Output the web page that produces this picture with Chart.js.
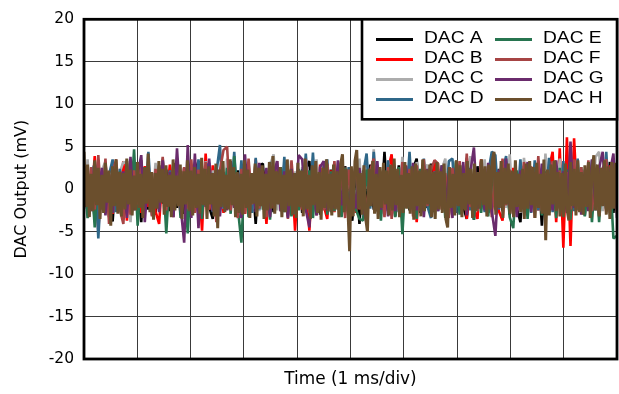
<!DOCTYPE html>
<html><head><meta charset="utf-8">
<script src="https://cdn.jsdelivr.net/npm/chart.js@4.4.1/dist/chart.umd.min.js"></script>
<style>html,body{margin:0;padding:0;background:#fff;}#wrap{width:619px;height:394px;}</style>
</head><body><div id="wrap"><canvas id="c" width="619" height="394"></canvas></div>
<script>
// ---- data (mV), samples evenly spread over 10 divisions of 1 ms ----
const seriesNames = ['DAC A','DAC B','DAC C','DAC D','DAC E','DAC F','DAC G','DAC H'];
const yTicks = [-20,-15,-10,-5,0,5,10,15,20];
const xDivisions = 10;

const dacA = [2.1,-2.6,1.7,-3.7,2.4,-1.9,3.0,-2.3,-3.8,2.2, -1.6,2.7,-2.8,3.5,-2.0,1.8,-3.9,2.5,-2.4,1.9, -3.0,2.8,-1.7,2.3,-2.6,3.1,-2.2,1.6,-2.9,2.6, -1.8,2.0,3.3,-2.7,2.4,-2.1,-3.5,2.9,-2.5,1.7, -2.3,3.0,-1.9,2.2,-3.1,2.6,-2.0,1.5,-4.1,2.8, 3.0,-2.4,1.8,-2.7,2.5,-1.6,2.9,-3.2,2.1,-2.2, 1.7,-2.8,2.4,3.3,-2.5,2.0,-3.0,2.6,-1.9,2.3, -2.6,1.8,-3.1,2.7,-2.1,-3.7,2.5,-4.1,2.2,-1.8, 2.9,-2.4,1.6,-2.9,4.4,-2.6,2.1,-3.2,2.8,-2.0, 1.9,-2.5,2.4,3.6,-2.8,1.7,-2.2,3.0,-2.7,2.3, -1.9,2.6,-3.0,1.8,-2.4,2.9,-2.1,-3.5,2.0,-3.6, 2.7,-2.3,1.9,-2.8,3.1,-1.7,2.4,-2.6,2.2,-3.0, 1.6,-2.2,-3.9,2.8,-2.5,2.0,-1.8,2.6,-4.3,2.3, -2.7,1.9,-2.1,3.0,-2.9,2.4,-1.6,2.7,-2.4,1.8, -3.1,2.5,-2.0,2.9,-2.6,1.7,-2.3,3.2,-2.8,2.1];
const dacB = [-2.0,2.4,-1.7,3.9,-4.9,2.1,-2.5,1.8,-2.9,2.6, -1.9,3.3,-3.7,2.2,-2.4,1.6,-2.8,2.7,-2.1,1.9, -2.6,-4.1,2.3,-1.8,2.9,-2.3,1.7,-3.0,2.5,-2.2, 2.0,-2.7,1.6,-4.9,4.2,-2.4,2.8,-1.9,2.2,-2.8, 1.8,-2.3,2.6,-2.0,1.7,-2.9,2.4,-2.5,3.5,-1.8, 2.1,-4.1,2.7,-2.2,1.9,-2.6,2.3,-1.7,2.8,-4.9, 2.0,-2.4,1.6,-4.9,2.6,-2.1,2.9,-1.9,-3.5,2.2, -2.7,1.8,-2.3,2.5,-2.0,1.7,-2.8,2.4,-2.5,2.0, -1.8,2.7,-2.6,1.9,-2.2,2.3,4.1,-2.9,1.6,-2.4, 2.8,-2.1,2.2,-3.9,1.8,-2.6,2.5,-1.9,3.4,-2.3, 2.0,-2.8,1.7,-2.2,2.6,-2.0,2.3,-3.5,1.9,-2.4, -3.5,3.5,-2.1,2.4,-1.8,2.7,-2.6,-3.7,2.1,-1.9, 2.5,-2.7,1.8,-2.3,2.9,-2.0,1.6,-2.5,2.2,-2.9, 2.4,4.4,-3.9,4.8,-6.9,6.1,-6.7,6.0,-2.5,2.3, -2.2,1.9,-2.6,2.5,-1.8,2.1,-2.7,2.8,-2.0,2.4];
const dacC = [-2.1,3.5,-2.5,1.8,-2.8,2.2,3.3,-2.4,1.7,-2.6, 2.0,3.2,3.0,-3.9,2.3,-1.9,3.4,-2.9,1.6,-2.2, 3.1,-1.7,2.1,-2.6,1.9,-2.4,3.7,-2.0,1.5,-2.8, 2.4,-2.2,1.8,-2.5,3.3,-1.8,2.2,-2.7,1.7,-2.3, 3.6,-2.1,1.9,-2.9,2.3,-1.6,3.2,-2.4,2.0,-2.6, 1.8,-2.2,2.8,4.1,-2.5,1.7,-2.0,3.4,-2.8,2.1, -1.9,2.6,-2.3,1.6,-2.7,3.5,-2.0,2.9,-2.4,1.8, -2.6,3.3,-1.7,2.5,-2.8,2.0,-2.2,3.6,-2.5,2.7, -2.1,4.7,-2.6,1.8,-2.3,3.4,-1.9,2.1,-2.7,3.8, -2.0,1.7,-2.4,3.2,-2.2,2.0,2.9,-2.6,1.9,-2.1, 2.3,3.6,-2.5,1.6,3.4,-2.8,2.2,-1.9,3.9,-2.3, 1.8,-2.7,3.5,-2.0,2.1,-2.5,1.7,3.2,-2.2,4.1, -2.4,1.9,-2.8,3.7,-1.7,2.6,-2.1,3.3,-2.6,4.2, -2.3,1.8,-2.0,3.6,-2.7,2.2,-1.9,3.4,-2.4,1.6, -2.2,2.9,-2.5,3.8,4.4,-2.6,1.8,-2.3,3.5,-2.0];
const dacD = [2.2,-2.5,1.8,3.0,-5.8,2.1,-2.2,1.7,3.5,-2.7, 2.4,-1.9,3.4,-2.4,1.6,-2.8,3.1,-2.0,4.4,-2.6, 1.9,-2.3,3.6,-1.8,2.2,-2.9,3.3,-2.4,2.5,-2.1, 2.0,-2.6,3.5,-2.2,2.4,3.1,-2.7,1.9,5.2,-2.3, 2.1,-1.8,4.4,-2.5,3.4,-2.0,1.7,-2.8,3.7,-2.4, 1.9,-2.2,3.2,-1.7,2.5,-2.6,3.8,-2.3,1.8,-2.9, 2.4,-2.1,4.2,-2.0,4.3,-2.5,1.6,-2.2,3.5,-2.7, 1.9,-2.4,3.3,-1.9,2.6,-2.8,3.6,-2.0,1.7,4.2, -2.3,4.4,-2.6,2.0,-1.8,3.4,-2.4,1.9,-2.7,3.1, -2.1,4.4,-2.5,1.8,-2.2,3.6,-2.0,-3.4,2.1,-2.6, 1.7,-2.3,3.3,3.6,-2.8,2.0,-1.9,3.7,-2.5,1.8, -2.2,3.2,-2.7,1.9,4.4,4.0,-2.4,2.2,3.9,-2.6, 1.8,-2.1,3.5,-2.3,2.0,-2.8,3.4,-2.5,2.4,-2.0, 3.7,-2.7,1.9,-2.3,3.3,-1.8,2.8,-2.6,3.6,-2.4, 1.6,-2.2,3.4,-2.5,2.0,-1.9,4.4,-2.8,3.2,-2.1];
const dacE = [2.0,-3.4,1.8,-4.5,2.3,-2.0,1.7,-3.3,2.4,-1.9, 2.1,-3.6,1.6,-2.2,4.7,-4.3,2.5,-1.8,2.2,-3.1, 1.9,-2.3,2.6,-5.2,2.0,-1.7,2.4,-3.4,1.8,-5.2, 2.3,-2.1,1.7,-3.5,2.7,-2.0,1.9,-3.2,2.2,-1.8, 2.5,-2.9,3.9,-2.2,-6.3,2.1,-3.3,1.6,-2.0,2.8, -2.4,1.8,-3.6,2.3,-1.7,2.6,-2.7,2.0,-3.2,1.9, -2.5,2.4,-1.8,2.2,-3.4,1.7,-2.3,2.7,-3.0,2.1, -2.6,1.9,-3.3,2.5,-1.9,2.0,-2.4,-3.5,-3.7,2.3, -2.0,1.8,2.4,-3.7,2.2,-2.5,1.6,-3.3,2.6,-5.3, 2.0,-2.3,1.9,-3.5,2.4,-1.8,2.2,-3.1,1.7,-2.0, 2.8,-3.4,2.1,-2.6,3.3,-3.0,1.9,-2.3,2.5,-3.6, 2.0,-2.8,1.6,-3.2,2.6,-2.4,2.3,-1.7,1.9,-3.3, -4.6,2.2,-2.0,2.7,-3.5,1.8,-2.6,2.4,-3.1,2.1, -2.8,1.7,-3.4,2.5,-2.0,2.3,-3.6,1.9,-2.4,2.6, -3.2,1.8,-3.9,2.2,-3.9,2.0,-2.6,2.4,-5.8,-5.5];
const dacF = [2.3,-1.9,2.6,-2.4,4.0,-2.1,3.6,-4.1,2.0,3.5, -2.3,-4.1,3.3,-3.0,2.2,-1.8,3.4,-2.6,1.7,-3.2, 2.4,-1.9,3.8,-2.5,1.8,-3.3,3.1,-2.0,2.6,-2.3, 3.5,-2.8,2.3,-1.7,3.2,-2.4,1.9,-3.9,2.2,4.6, 5.0,-2.5,1.8,-3.4,2.4,-2.9,3.6,-1.8,2.6,-2.3, 1.7,-3.3,2.2,-2.0,3.3,-2.4,1.9,-3.5,3.4,-1.8, 2.1,-2.3,3.5,-2.8,2.4,-3.1,2.0,-2.5,3.0,-1.9, 3.3,-2.2,1.8,-3.4,2.3,-2.0,3.6,-2.4,1.7,-2.9, 2.2,3.6,-2.3,1.9,-3.3,2.6,-3.5,2.0,-2.5,3.2, -2.2,2.4,-3.2,2.8,-2.6,3.5,-2.0,2.3,3.4,3.0, -2.4,1.9,-3.4,2.5,-1.8,3.3,-2.3,4.2,-2.1,1.7, -2.6,3.4,-2.0,2.0,-3.3,1.8,-2.2,3.6,-1.9,2.3, -3.1,1.7,-2.4,3.2,-2.0,2.7,-3.4,3.9,-2.6,1.9, -2.1,3.3,-1.8,2.2,-3.2,2.0,-2.4,3.5,-2.3,2.6, -2.0,3.4,-2.6,1.9,-3.0,2.4,3.5,-2.5,2.0,-2.1];
const dacG = [-2.3,1.9,-2.6,3.2,-1.8,2.5,-3.1,1.7,-2.8,2.4, -2.0,2.1,-3.4,3.8,-2.5,1.8,4.0,-3.9,2.3,-2.2, 1.6,-2.7,3.4,-1.9,2.0,-3.3,4.8,-2.0,-6.3,5.2, -3.4,4.2,-4.6,2.5,-2.1,3.6,-2.6,2.3,-3.2,2.0, -2.5,3.3,-2.2,1.9,-3.4,4.1,-2.0,1.6,-2.7,3.1, -1.9,2.5,-3.3,1.8,3.3,-2.6,2.1,-3.4,2.4,-2.2, 4.0,3.5,-2.4,-4.5,1.9,-3.1,2.6,3.3,-2.5,1.8, -2.2,3.4,-1.9,2.1,-3.5,1.7,-2.3,2.5,-2.0,-4.0, 2.2,-1.8,3.3,-2.4,1.9,-3.2,2.3,-2.6,1.6,-2.2, 2.7,-2.0,3.1,-2.5,1.8,-3.3,2.4,-1.9,2.0,-2.6, 2.8,-2.2,1.7,-3.4,2.5,-2.0,3.2,-3.1,2.0,4.9, -2.3,1.8,-2.5,3.1,-2.6,-5.5,2.3,-2.0,3.6,-2.2, 1.9,-3.3,2.2,-1.8,3.2,-2.7,2.0,-2.1,3.0,-2.3, 1.7,-2.5,3.4,-2.0,2.1,-2.8,5.6,-2.2,1.9,-3.0, 2.3,-2.6,3.5,-2.1,2.5,4.4,-2.3,2.0,4.2,-3.4];
const dacH = [4.4,-2.1,2.9,-3.3,1.8,-2.6,3.4,-1.9,2.5,-3.5, 1.7,-2.8,3.1,-1.6,2.2,-4.3,2.7,-2.0,3.5,-2.9, 2.0,-3.2,1.9,-2.4,3.6,-1.8,2.3,-3.1,1.6,-2.5, 3.2,-2.2,1.8,-3.4,2.6,-1.7,4.2,-2.7,2.0,-3.6, 1.9,-2.3,3.3,-1.6,2.4,-3.0,2.8,-2.1,1.7,-3.3, 3.5,-2.5,1.6,-2.0,2.9,-3.5,2.1,-1.8,3.4,-2.6, 2.2,-3.1,2.6,-2.2,1.8,-2.9,3.7,-1.9,2.4,-3.5, 2.7,-1.8,1.9,-3.2,3.0,-4.6,2.3,-2.1,3.3,-2.7, 1.7,-2.4,3.5,-1.9,2.6,-3.3,2.0,-2.8,1.8,-3.0, 3.4,-2.2,2.3,-3.4,1.9,-1.7,3.0,-3.2,2.5,-2.0, 2.8,-3.5,1.8,-2.5,3.2,-2.3,3.9,-2.9,2.1,-1.8, 2.6,-3.3,1.7,-2.7,3.5,-2.0,2.3,-3.0,1.9,-3.4, 3.1,-2.1,2.2,-3.2,3.6,-2.4,1.7,-3.5,2.8,-1.9, 3.3,-2.8,2.0,-3.6,2.5,-2.2,3.5,-2.6,1.8,-3.1, 2.9,-2.4,2.1,-3.3,3.0,4.1,-2.7,2.4,-2.0,-7.3, 2.7,-3.2,3.3,4.6,-2.3,1.9,-3.0,2.8,-3.4,-5.0, 2.4,-2.0,3.3,-2.9,1.8,-3.5,2.6,-2.2,3.1,-1.8, 2.2,-3.1,2.9,-2.5,3.6,-1.9,2.4,-3.3,1.7,-2.8, 3.2,-2.3,1.9,-2.9,2.7,-3.6,3.0,-2.0,2.2,-3.2, 3.5,-2.6,2.3,-1.8,2.9,-3.3,2.0,-3.5,3.2,-2.4, 2.1,-2.8,3.0,-3.5,-4.5,2.6,-2.2,1.8,-3.1,3.4, -2.0,2.8,-3.3,1.9,-2.5,3.3,-1.8,2.4,-3.4,3.0, -2.6,2.0,-2.3,3.5,-1.9,2.7,-3.2,2.9,-2.4,3.3, 4.4,-3.0,2.0,-2.2,3.3,-3.4,2.5,-1.8,3.0,-2.9, 2.2,-3.3,3.4,-2.1,1.8,-2.7,2.4,-3.5,3.0,-2.3, 3.3,-1.9,2.6,-3.4,3.1,-2.2,1.8,-2.9,3.5,-6.0, 2.3,-3.1,2.9,-1.8,3.4,-2.6,2.0,-3.2,1.9,-3.3, 3.0,-2.4,-3.7,3.2,-2.0,2.4,-3.1,3.4,-2.7,2.0, -3.0,2.8,-2.1,3.2,-3.4,2.2,4.0,-2.5,2.9,-3.2, 2.5,-2.0,3.4,-3.0,2.7,-3.5,3.2,-2.3,3.1,-2.8];

const seriesValues = [dacA, dacB, dacC, dacD, dacE, dacF, dacG, dacH];
const seriesColors = ['#000000','#ff0000','#acacac','#2f6788','#27744f','#a64444','#6a2b6c','#6b4f2d'];
const seriesWidths = [2.6, 2.6, 2.6, 2.6, 2.6, 2.6, 2.6, 3];

const frameLegend = {
  id: 'frameLegend',
  afterDraw(chart) {
    const ctx = chart.ctx, ca = chart.chartArea;
    ctx.save();
    ctx.strokeStyle = '#000';
    ctx.lineWidth = 2.8;
    ctx.strokeRect(ca.left, ca.top, ca.right - ca.left, ca.bottom - ca.top);
    const bx0 = ca.left + 278, by0 = ca.top, bx1 = ca.right, by1 = ca.top + 100;
    ctx.fillStyle = '#fff';
    ctx.fillRect(bx0, by0, bx1 - bx0, by1 - by0);
    ctx.lineWidth = 2.6;
    ctx.strokeRect(bx0, by0, bx1 - bx0, by1 - by0);
    ctx.font = '16px "Liberation Sans", Arial, sans-serif';
    ctx.textBaseline = 'middle';
    ctx.textAlign = 'left';
    chart.data.datasets.forEach((ds, k) => {
      const col = k < 4 ? 0 : 1, row = k % 4;
      const lx = bx0 + 14 + col * 119;
      const cy = by0 + 20.3 + row * 20;
      ctx.strokeStyle = ds.borderColor;
      ctx.lineWidth = 3;
      ctx.beginPath();
      ctx.moveTo(lx, cy); ctx.lineTo(lx + 37, cy);
      ctx.stroke();
      ctx.save();
      ctx.translate(lx + 48, cy - 0.6);
      ctx.scale(1.2, 1);
      ctx.fillStyle = '#000';
      ctx.fillText(ds.label, 0, 0);
      ctx.restore();
    });
    ctx.restore();
  }
};

new Chart(document.getElementById('c'), {
  type: 'line',
  data: {
    datasets: seriesValues.map((vals, k) => ({
      label: seriesNames[k],
      data: vals.map((v, i) => ({ x: i * xDivisions / (vals.length - 1), y: v })),
      borderColor: seriesColors[k],
      backgroundColor: seriesColors[k],
      borderWidth: seriesWidths[k],
      borderJoinStyle: 'bevel',
      pointRadius: 0,
      tension: 0,
      fill: false,
      order: seriesValues.length - k
    }))
  },
  options: {
    responsive: false,
    animation: false,
    devicePixelRatio: 1,
    layout: { padding: { left: 0, right: 2, top: 18, bottom: 0 } },
    plugins: { legend: { display: false }, tooltip: { enabled: false } },
    scales: {
      x: {
        type: 'linear', min: 0, max: xDivisions,
        ticks: { display: false, stepSize: 1 },
        grid: { color: '#3a3a3a', lineWidth: 1, drawTicks: false },
        border: { display: false },
        title: { display: true, text: 'Time (1 ms/div)', color: '#000',
                 font: { family: '"DejaVu Sans", sans-serif', size: 16.9 }, padding: { top: 0, bottom: 4 } },
        afterFit(s) { s.height = 35; }
      },
      y: {
        type: 'linear', min: -20, max: 20,
        afterBuildTicks(s) { s.ticks = yTicks.map(v => ({ value: v })); },
        ticks: { color: '#000', padding: 10, font: { family: '"DejaVu Sans", sans-serif', size: 15.5 } },
        grid: { color: '#3a3a3a', lineWidth: 1, drawTicks: false },
        border: { display: false },
        title: { display: true, text: 'DAC Output (mV)', color: '#000',
                 font: { family: '"DejaVu Sans", sans-serif', size: 16 }, padding: { top: 12, bottom: 0 } },
        afterFit(s) { s.width = 84; }
      }
    }
  },
  plugins: [frameLegend]
});
</script></body></html>
